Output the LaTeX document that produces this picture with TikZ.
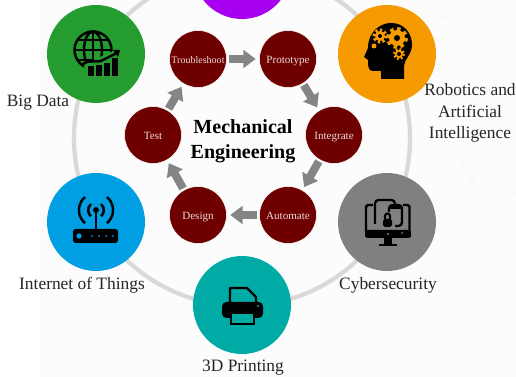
\documentclass[tikz,border=0pt]{standalone}
\usepackage{fontspec}
\setmainfont{Liberation Serif}
\usepackage{xcolor}
\usetikzlibrary{arrows.meta}
\definecolor{maroon}{HTML}{6F0000}
\definecolor{ringgray}{HTML}{D9D9D9}
\definecolor{flowgray}{HTML}{858585}
\definecolor{bigdata}{HTML}{259C2F}
\definecolor{robotics}{HTML}{F59A00}
\definecolor{things}{HTML}{009FE3}
\definecolor{cyber}{HTML}{808080}
\definecolor{printing}{HTML}{00ABA5}
\definecolor{topic}{HTML}{A800F0}
\tikzset{
  topicdot/.style={circle,minimum size=1.96cm,inner sep=0pt},
  stagedot/.style={circle,fill=maroon,draw=white,line width=0.3pt,minimum size=1.14cm,inner sep=0pt,
    text=white!85!maroon,text height=5.6pt,text depth=0.4pt,font=\fontsize{6.3}{7}\selectfont},
  flowarrow/.style={draw=flowgray,line width=4.6pt,-{Triangle[length=7pt,width=10pt]},shorten >=2pt,shorten <=1pt},
  caption/.style={text=black!85,font=\fontsize{9.9}{12.4}\selectfont,align=center},
  icon/.style={line width=1.4pt,black},
  faintline/.style={black!2,line width=3pt}
}
\begin{document}
\begin{tikzpicture}[x=0.02cm,y=-0.02cm]
      \useasboundingbox (0,0) rectangle (516,377);
      \fill[white] (0,0) rectangle (516,377);
      \fill[black!1] (40,0) rectangle (516,377);
      \draw[faintline] (438,20) -- (465,8);
      \draw[faintline] (433,28) -- (470,28);
      \draw[faintline] (455,150) .. controls (470,175) and (480,200) .. (498,205) -- (516,192);

      \begin{scope}
      \clip (0,0) rectangle (516,377);
      \draw[ringgray,line width=2.4pt] (242,138) circle (168);

      \node (purple) at (242,-30) [topicdot,fill=topic] {};
      \node (bigdata) at (96,54) [topicdot,fill=bigdata] {};
      \node (robotics) at (387,54) [topicdot,fill=robotics] {};
      \node (things) at (96,222) [topicdot,fill=things] {};
      \node (cyber) at (387,222) [topicdot,fill=cyber] {};
      \node (printing) at (242,305) [topicdot,fill=printing] {};
      \end{scope}

      \node (trouble) at (198,59) [stagedot,font=\fontsize{5.7}{7}\selectfont] {Troubleshoot};
      \node (proto) at (288,59) [stagedot] {Prototype};
      \node (integ) at (334,135) [stagedot] {Integrate};
      \node (auto) at (288,215) [stagedot] {Automate};
      \node (design) at (198,215) [stagedot] {Design};
      \node (test) at (153,135) [stagedot] {Test};

      \draw[flowarrow] (trouble) -- (proto);
      \draw[flowarrow] (proto) -- (integ);
      \draw[flowarrow] (integ) -- (auto);
      \draw[flowarrow] (auto) -- (design);
      \draw[flowarrow] (design) -- (test);
      \draw[flowarrow] (test) -- (trouble);

      \node (title) at (243,141) [align=center,font=\fontsize{11.4}{14.3}\selectfont\bfseries] {Mechanical\\Engineering};

      \node (bigdatatext) at (38,103) [caption] {Big Data};
      \node (roboticstext) at (470,113) [caption] {Robotics and\\Artificial\\Intelligence};
      \node (thingstext) at (82,285) [caption] {Internet of Things};
      \node (cybertext) at (388,285) [caption] {Cybersecurity};
      \node (printingtext) at (243,368) [caption] {3D Printing};

      % globe
      \draw[icon] (93,50) circle (18.5);
      \draw[icon] (93,50) ellipse (9 and 18.5);
      \draw[icon] (93,31.5) -- (93,68.5);
      \draw[icon] (74.5,50) -- (111.5,50);
      \draw[icon] (78,40) -- (108,40);
      \draw[icon] (78,60) -- (108,60);
      \fill[bigdata] (84,64) -- (120,48) -- (122,80) -- (86,80) -- cycle;
      \draw[icon] (82,65) .. controls (90,58) and (96,64) .. (103,60) -- (117,53);
      \fill (120,50) -- (113,50) -- (118,57) -- cycle;
      \fill (88,66) rectangle (94,76);
      \fill (96,65) rectangle (102,76);
      \fill (104,63) rectangle (110,76);
      \fill (112,58) rectangle (118,76);

      % head and gears
      \fill (381,79) -- (381,71) -- (373,71) .. controls (368,71) and (368,66) .. (368,60) -- (364,57)
        -- (368,48) .. controls (368,32) and (380,23) .. (391,23)
        .. controls (404,23) and (412,33) .. (412,45) .. controls (412,54) and (404,60) .. (404,66) -- (404,79) -- cycle;
      \fill[robotics] (397,38) circle (8);
      \draw[robotics,line width=2.3pt,dash pattern=on 2pt off 2pt] (397,38) circle (9);
      \fill (397,38) circle (3);
      \fill[robotics] (380,36) circle (5);
      \draw[robotics,line width=1.7pt,dash pattern=on 1.33pt off 1.33pt] (380,36) circle (6);
      \fill (380,36) circle (2);
      \fill[robotics] (399,54) circle (4);
      \draw[robotics,line width=1.4pt,dash pattern=on 1.11pt off 1.11pt] (399,54) circle (5);
      \fill (399,54) circle (2);
      \fill[robotics] (374,46) circle (2.5);

      % router
      \fill[rounded corners=1.5pt] (73,229) rectangle (118,243);
      \fill[things] (79,236) circle (2.7);
      \fill[things] (92,236) circle (1);
      \fill[things] (99,236) circle (1);
      \fill[things] (106,236) circle (1);
      \fill[things] (113,236) circle (1);
      \draw[black,line width=1.4pt] (96,210) -- (96,229);
      \fill (96,210) circle (3);
      \draw[icon] (91,204) arc (230:130:8);
      \draw[icon] (101,204) arc (-50:50:8);
      \draw[icon] (85,197) arc (230:130:17);
      \draw[icon] (107,197) arc (-50:50:17);

      % printer
      \draw[icon,fill=printing,line join=round] (230,288) -- (247,288) -- (256,297) -- (256,306) -- (230,306) -- cycle;
      \fill[rounded corners=2.5pt] (222,302) rectangle (263,318);
      \fill[printing] (258,306) circle (1.2);
      \draw[icon,fill=printing] (231,313) rectangle (254,324);

      % monitor with lock
      \draw[line width=1.4pt,black,rounded corners=1pt] (373,205) -- (366,205) -- (366,234);
      \draw[line width=1.4pt,black,rounded corners=1pt] (403,205) -- (409.5,205) -- (409.5,234);
      \fill[rounded corners=1pt] (365,230) rectangle (411,238);
      \fill[cyber] (388,234) circle (1.2);
      \fill[cyber] (402,233) circle (1);
      \fill (384,238) rectangle (392,244);
      \fill (379,244) rectangle (397,246);
      \draw[line width=1.3pt,black,rounded corners=2pt] (375,224) -- (375,200) -- (395,200) -- (395,205);
      \draw[line width=1.3pt,black,rounded corners=2pt,fill=cyber] (389,205) rectangle (402,226);
      \fill (389,205) rectangle (402,209);
      \fill[cyber] (380,212) rectangle (395,229);
      \fill[rounded corners=1pt] (383,219) rectangle (392,227);
      \draw[line width=1.2pt,black] (385,219) -- (385,216) arc (180:360:2.5) -- (390,219);
\end{tikzpicture}
\end{document}
